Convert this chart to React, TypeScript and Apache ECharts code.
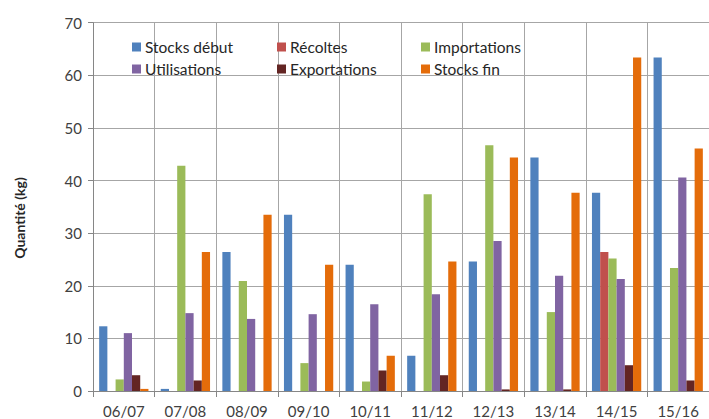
import React, { useEffect, useRef } from "react";
import * as echarts from "echarts";

const categories = ["06/07", "07/08", "08/09", "09/10", "10/11", "11/12", "12/13", "13/14", "14/15", "15/16"];
const stocksDebut = [12.3, 0.4, 26.4, 33.5, 24.0, 6.7, 24.6, 44.4, 37.7, 63.4];
const recoltes = [0, 0, 0, 0, 0, 0, 0, 0, 26.4, 0];
const importations = [2.2, 42.8, 20.9, 5.3, 1.8, 37.4, 46.7, 15.0, 25.2, 23.4];
const utilisations = [11.0, 14.8, 13.7, 14.6, 16.5, 18.4, 28.5, 21.9, 21.3, 40.6];
const exportations = [3.0, 2.0, 0, 0, 3.9, 3.0, 0.3, 0.3, 4.9, 2.0];
const stocksFin = [0.4, 26.4, 33.5, 24.0, 6.7, 24.6, 44.4, 37.7, 63.4, 46.1];

const seriesNames = ["Stocks début", "Récoltes", "Importations", "Utilisations", "Exportations", "Stocks fin"];
const seriesData = [stocksDebut, recoltes, importations, utilisations, exportations, stocksFin];
const colors = ["#4F81BD", "#C0504D", "#9BBB59", "#8064A2", "#632523", "#E46C0A"];
const yAxisTitle = "Quantité (kg)";

const legendPos = [
  { left: 132, top: 39 },
  { left: 277, top: 39 },
  { left: 421, top: 39 },
  { left: 132, top: 61 },
  { left: 277, top: 61 },
  { left: 421, top: 61 },
];

const FONT = "Lato, 'Open Sans', sans-serif";

export default function App() {
  const ref = useRef<HTMLDivElement>(null);
  useEffect(() => {
    if (!ref.current) return;
    const chart = echarts.init(ref.current, undefined, { renderer: "svg" });
    chart.setOption({
      animation: false,
      color: colors,
      textStyle: { fontFamily: FONT },
      legend: seriesNames.map((n, i) => ({
        data: [n],
        left: legendPos[i].left,
        top: legendPos[i].top,
        padding: 0,
        itemWidth: 9,
        itemHeight: 9,
        itemGap: 0,
        icon: "rect",
        selectedMode: false,
        textStyle: { fontFamily: FONT, fontSize: 15.5, color: "#262626", padding: [0, 0, 0, -1] },
      })),
      graphic: [
        {
          type: "text",
          x: 19,
          y: 218,
          rotation: Math.PI / 2,
          style: {
            text: yAxisTitle,
            fontFamily: FONT,
            fontSize: 14,
            fontWeight: "bold",
            fill: "#262626",
            align: "center",
            verticalAlign: "middle",
          },
        },
      ],
      grid: { left: 93, top: 22.7, width: 625, height: 368.3, containLabel: false },
      xAxis: {
        type: "category",
        data: categories,
        axisLine: { show: true, lineStyle: { color: "#868686", width: 1 } },
        axisTick: { show: true, length: 6, lineStyle: { color: "#868686" } },
        splitLine: { show: true, lineStyle: { color: "#a6a6a6", width: 1 } },
        axisLabel: { fontFamily: FONT, fontSize: 15, color: "#404040", margin: 12 },
      },
      yAxis: {
        type: "value",
        min: 0,
        max: 70,
        interval: 10,
        axisLine: { show: true, lineStyle: { color: "#868686" } },
        axisTick: { show: true, length: 5, lineStyle: { color: "#868686" } },
        splitLine: { show: true, lineStyle: { color: "#a6a6a6", width: 1 } },
        axisLabel: { fontFamily: FONT, fontSize: 15, color: "#404040", margin: 11 },
      },
      series: seriesNames.map((n, i) => ({
        name: n,
        type: "bar",
        data: seriesData[i],
        barGap: "0%",
        barCategoryGap: "20%",
        itemStyle: { color: colors[i] },
      })),
    });
    return () => chart.dispose();
  }, []);
  return <div ref={ref} style={{ width: 709, height: 419, position: "absolute", left: 0, top: 0, overflow: "hidden" }} />;
}
